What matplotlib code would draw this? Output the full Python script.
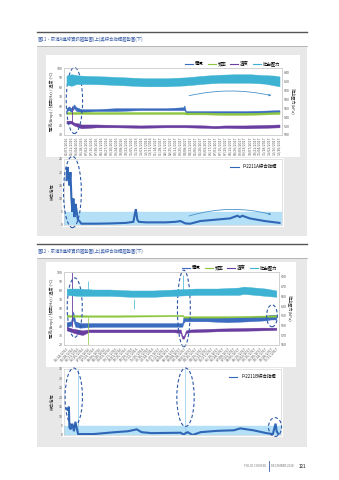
import numpy as np
import matplotlib.pyplot as plt
from matplotlib.patches import Ellipse, Rectangle, FancyArrowPatch
from matplotlib.lines import Line2D

plt.rcParams['font.family'] = ['Noto Sans CJK TC', 'DejaVu Sans']

W, H = 339, 480

# ---------------- 圖11 : 泵浦A ----------------
title_a = "圖11、泵浦A連線資訊趨勢圖(上)與綜合指標趨勢圖(下)"
dates_a = ("05/07/2016 05/21/2016 06/04/2016 06/18/2016 07/02/2016 07/16/2016 07/30/2016 "
           "08/13/2016 08/27/2016 09/10/2016 09/24/2016 10/08/2016 10/22/2016 11/05/2016 "
           "11/19/2016 12/03/2016 12/17/2016 12/31/2016 01/14/2017 01/28/2017 02/11/2017 "
           "02/25/2017 03/11/2017 03/25/2017 04/08/2017 04/22/2017 05/06/2017 05/20/2017 "
           "06/03/2017 06/17/2017 07/01/2017 07/15/2017 07/29/2017 08/12/2017 08/26/2017 "
           "09/09/2017 09/23/2017 10/07/2017 10/21/2017 11/04/2017 11/18/2017 12/02/2017 "
           "12/16/2017 12/30/2017").split()

# 吐出壓力 (kPa), band low / high
pres_a_x = [0, 1, 2, 3, 5, 8, 12, 16, 20, 24, 26, 28, 31, 34, 37, 40, 42, 43]
pres_a_lo = [613, 610, 614, 614, 614, 613, 611, 609, 609, 611, 613, 615, 617, 617, 617, 615, 611, 609]
pres_a_hi = [633, 636, 634, 633, 632, 631, 629, 627, 627, 629, 631, 633, 635, 636, 636, 634, 633, 631]
# 電流
cur_a_x = [0, 0.5, 1, 1.5, 2, 3, 6, 10, 15, 20, 23.6, 23.8, 24.1, 28, 32, 36, 40, 43]
cur_a_lo = [55, 56, 54, 58, 55, 54, 55, 55, 56, 56, 56, 56, 53, 53, 53, 53, 53, 54]
cur_a_hi = [58, 60, 58, 62, 59, 57, 57, 58, 58, 58, 59, 61, 55, 55, 55, 55, 55.5, 56]
# 頻率
freq_a_x = [0, 3, 10, 20, 23.7, 24, 28, 32, 36, 40, 43]
freq_a_lo = [52, 52, 52, 52, 52, 51.5, 51.5, 51, 51, 51.5, 52]
freq_a_hi = [54, 54, 54, 54, 54, 53.5, 53.5, 53, 53, 53.5, 54]
# 溫度
temp_a_x = [0, 1, 1.5, 2.5, 3, 6, 10, 15, 20, 24, 28, 30, 32, 36, 40, 43]
temp_a_lo = [42, 42, 40, 38, 37, 38, 38, 37.5, 38, 38, 37.5, 37, 37.5, 37, 37.5, 38]
temp_a_hi = [45, 45, 43, 42, 41, 41, 40.5, 40, 40.5, 40.5, 40, 39.5, 40, 40, 40.5, 41]
temp_a_spike_x, temp_a_spike_lo, temp_a_spike_hi = [1.2], [42], [60]
# 綜合指標
idx_a_x = [0, 0.2, 0.4, 0.6, 0.8, 1.0, 1.2, 1.4, 1.6, 1.8, 2.0, 2.3, 2.6, 3, 6, 9, 12, 13.5,
           14, 14.3, 14.6, 16, 20, 22, 23, 24, 25, 27, 30, 33, 34.5, 35, 35.5, 37, 40, 43]
idx_a = [17, 22, 18, 15, 20, 10, 5, 10, 3, 8, 6, 2, 1.5, 0.5, 0.5, 0.6, 0.8, 1.2,
         6, 2, 1.2, 1, 1, 1.2, 1.5, 0.6, 0.5, 1.5, 2, 2.5, 3.5, 3, 3.5, 2.5, 1.5, 0.8]

# ---------------- 圖12 : 泵浦B ----------------
title_b = "圖12、泵浦B連線資訊趨勢圖(上)與綜合指標趨勢圖(下)"
dates_b = ("05/14/2016 05/28/2016 06/11/2016 06/25/2016 07/09/2016 07/23/2016 08/06/2016 "
           "08/20/2016 09/03/2016 09/17/2016 10/01/2016 10/15/2016 10/29/2016 11/12/2016 "
           "11/26/2016 12/10/2016 12/24/2016 01/07/2017 01/21/2017 02/04/2017 02/18/2017 "
           "03/04/2017 03/18/2017 04/01/2017 04/15/2017 04/29/2017 05/13/2017 05/27/2017 "
           "06/10/2017 06/24/2017 07/08/2017 07/22/2017 08/05/2017 08/19/2017 09/02/2017 "
           "09/16/2017 09/30/2017 10/14/2017 10/28/2017 11/11/2017").split()

pres_b_x = [0, 2, 5, 8, 12, 16, 20, 24, 28, 32, 33, 35, 37, 39]
pres_b_lo = [653, 651, 651, 651, 649, 649, 651, 653, 653, 653, 655, 653, 651, 649]
pres_b_hi = [666, 666, 664, 664, 662, 662, 664, 666, 666, 668, 670, 668, 666, 662]
pres_b_spike_x, pres_b_spike_lo, pres_b_spike_hi = [3.9, 12.6, 21.7], [660, 625, 660], [681, 644, 694]

cur_b_x = [0, 0.8, 1.2, 1.6, 2.5, 5, 10, 15, 20, 21.5, 21.7, 22, 26, 30, 34, 37, 38, 39]
cur_b_lo = [40, 41, 48, 40, 39, 40, 40, 40, 40, 40, 44, 46, 46, 45, 46, 47, 48, 48]
cur_b_hi = [45, 46, 57, 46, 44, 44, 44, 44, 44, 44, 50, 51, 51, 50, 51, 52, 53, 53]

freq_b_x = [0, 4, 10, 20, 21.6, 21.8, 28, 34, 39]
freq_b_lo = [51, 51, 51, 51.5, 51.5, 50, 50, 50.5, 51]
freq_b_hi = [53, 52.5, 52.5, 53, 53, 51.5, 51.5, 52, 52.5]
freq_b_spike_x, freq_b_spike_lo, freq_b_spike_hi = [3.9], [20], [51]

temp_b_x = [0, 1, 2, 3, 4, 6, 10, 15, 20, 21.2, 21.5, 21.8, 22.2, 23, 28, 32, 36, 39]
temp_b_lo = [36, 34, 32, 31, 34, 34, 34, 34, 34, 33, 27, 27, 33, 34, 35, 35.5, 36, 36.5]
temp_b_hi = [40, 38, 37, 36, 37, 37, 37, 37, 37, 37, 30, 30, 36, 37, 38, 38.5, 39, 39]
temp_b_spike_x, temp_b_spike_lo, temp_b_spike_hi = [0.9], [40], [100]

idx_b_x = [0, 0.24, 0.4, 0.5, 0.73, 1.03, 1.33, 1.6, 2.1, 5, 8.9, 11.3, 12.9, 13.8, 15.6,
           21, 21.5, 22.3, 23.2, 24.7, 27.7, 30.8, 32, 33.2, 34.4, 36.8, 38, 38.5, 38.7, 39]
idx_b = [14, 13, 15, 4, 3, 6, 2, 7, 0.5, 0.5, 1.5, 2, 3, 1.5, 1, 1.2, 0.3, 1.5, 0, 1.5,
         2.2, 2.5, 3.5, 3, 2.5, 1, 0.5, 6, 2, 0.5]
idx_b_spike_x, idx_b_spike_hi = [2.0, 21.8], [35, 35]

legend_names = ["電流", "頻率", "溫度", "吐出壓力"]
c_cur, c_freq, c_temp, c_pres = "#3b6cc0", "#8cc63e", "#6a3da0", "#3db2d2"
c_idx, c_band, c_ell, c_arrow = "#2f66b6", "#b3e0f6", "#2c58a8", "#4b93c9"
tick_col = "#555555"


def box(x0, y0, x1, y1):
    return [x0 / W, 1 - y1 / H, (x1 - x0) / W, (y1 - y0) / H]


def rect(x0, y0, x1, y1, color, z=-5):
    fig.add_artist(Rectangle((x0 / W, 1 - y1 / H), (x1 - x0) / W, (y1 - y0) / H,
                             transform=fig.transFigure, facecolor=color, edgecolor="none", zorder=z))


def hline(y, x0, x1, color, lw):
    fig.add_artist(Line2D([x0 / W, x1 / W], [1 - y / H, 1 - y / H], transform=fig.transFigure,
                          color=color, lw=lw))


def style(ax):
    for s in ax.spines.values():
        s.set_color("#c8c8c8")
        s.set_linewidth(0.4)
    ax.tick_params(labelsize=2.6, length=0, pad=1, colors=tick_col)


def ellipse(ax, cx, cy, w, h):
    ax.add_patch(Ellipse((cx, cy), w, h, fill=False, ls=(0, (3, 2)), lw=0.8,
                         edgecolor=c_ell, clip_on=False, zorder=6))


def top_chart(ax, dates, ylim, yticks, plim, pticks, pres, cur, freq, temp, rot):
    n = len(dates)
    ax.set_xlim(-0.5, n - 0.5)
    ax.set_ylim(*ylim)
    ax.set_yticks(yticks)
    ax.set_xticks(range(n))
    if rot == 90:
        ax.set_xticklabels(dates, rotation=90, fontsize=2.1)
    else:
        ax.set_xticklabels(dates, rotation=45, ha="right", rotation_mode="anchor", fontsize=2.1)
    ax.grid(False)
    for (x, lo, hi), c in zip([cur, freq, temp], [c_cur, c_freq, c_temp]):
        ax.fill_between(x, lo, hi, color=c, lw=0.3, edgecolor=c)
    ax2 = ax.twinx()
    ax2.set_ylim(*plim)
    ax2.set_yticks(pticks)
    ax2.fill_between(pres[0], pres[1], pres[2], color=c_pres, lw=0.3, edgecolor=c_pres)
    style(ax)
    style(ax2)
    ax.set_ylabel("電流(Amp) / 頻率(Hz) / 溫度 (°C)", fontsize=3, labelpad=2, color="#333333")
    ax2.set_ylabel("吐出壓力(kPa)", fontsize=3, rotation=270, labelpad=4, color="#333333")
    handles = [Line2D([], [], color=c, lw=0.8) for c in [c_cur, c_freq, c_temp, c_pres]]
    ax.legend(handles, legend_names, loc="lower right", bbox_to_anchor=(1.0, 1.0), ncol=4,
              fontsize=3.2, frameon=False, handlelength=1.8, columnspacing=0.9,
              handletextpad=0.4, borderpad=0.2, borderaxespad=0.2)
    return ax2


def bottom_chart(ax, n, ylim, yticks, x, y, label):
    ax.set_xlim(-0.5, n - 0.5)
    ax.set_ylim(*ylim)
    ax.set_yticks(yticks)
    ax.set_xticks([])
    ax.axhspan(0, 5, color=c_band, zorder=1)
    ax.plot(x, y, color=c_idx, lw=1.5, zorder=3, solid_joinstyle="miter")
    style(ax)
    ax.set_ylabel("綜合指標", fontsize=3, labelpad=3, color="#333333")
    ax.legend([Line2D([], [], color=c_idx, lw=0.8)], [label], loc="upper right",
              fontsize=3.2, frameon=False, handlelength=2.0, borderaxespad=0.8)


fig = plt.figure(figsize=(W / 100, H / 100), dpi=100)
fig.patch.set_facecolor("white")

# ----- page decorations -----
for y_rule, y_title, y_line, y_p0, y_p1, title in [(32, 39, 46, 47, 236, title_a),
                                                    (244, 251, 258, 259, 447, title_b)]:
    hline(y_rule, 37, 307, "#555555", 1.0)
    fig.text(38 / W, 1 - y_title / H, title, fontsize=3.2, color="#3a5ea8",
             va="center", ha="left")
    hline(y_line, 37, 307, "#999999", 0.5)
    rect(37, y_p0, 307, y_p1, "#e8e8e8", -6)

rect(46, 55, 300, 157, "white")
rect(62, 158, 284, 227, "white")
rect(46, 262, 296, 367, "white")
rect(62, 368, 283, 437, "white")

# ----- 圖11 top -----
ax1 = fig.add_axes(box(64, 68, 282, 135))
top_chart(ax1, dates_a, (30, 100), range(30, 101, 10), (500, 650), range(500, 641, 20),
          (pres_a_x, pres_a_lo, pres_a_hi), (cur_a_x, cur_a_lo, cur_a_hi),
          (freq_a_x, freq_a_lo, freq_a_hi), (temp_a_x, temp_a_lo, temp_a_hi), 90)
ax1.vlines(temp_a_spike_x, temp_a_spike_lo, temp_a_spike_hi, color=c_temp, lw=0.6)
ellipse(ax1, 1.6, 66, 3.3, 69)
ax1.add_patch(FancyArrowPatch((24.2, 70.4), (41.9, 70.5), connectionstyle="arc3,rad=-0.12",
                              arrowstyle="-|>", mutation_scale=3, lw=0.6, color=c_arrow, zorder=6))

# ----- 圖11 bottom -----
ax1b = fig.add_axes(box(64, 159, 282, 225))
bottom_chart(ax1b, len(dates_a), (0, 25), range(0, 26, 5), idx_a_x, idx_a, "P-2211A綜合指標")
ellipse(ax1b, 1.2, 12.5, 3.6, 27)
ax1b.add_patch(FancyArrowPatch((24.2, 3.1), (41.9, 3.7), connectionstyle="arc3,rad=-0.15",
                               arrowstyle="-|>", mutation_scale=3, lw=0.6, color=c_arrow, zorder=6))

# ----- 圖12 top -----
ax2 = fig.add_axes(box(64, 272, 279, 345))
ax2r = top_chart(ax2, dates_b, (20, 100), range(20, 101, 10), (550, 700), range(550, 691, 20),
                 (pres_b_x, pres_b_lo, pres_b_hi), (cur_b_x, cur_b_lo, cur_b_hi),
                 (freq_b_x, freq_b_lo, freq_b_hi), (temp_b_x, temp_b_lo, temp_b_hi), 45)
ax2.vlines(temp_b_spike_x, temp_b_spike_lo, temp_b_spike_hi, color=c_temp, lw=0.6)
ax2.vlines(freq_b_spike_x, freq_b_spike_lo, freq_b_spike_hi, color=c_freq, lw=0.5)
ax2r.vlines(pres_b_spike_x, pres_b_spike_lo, pres_b_spike_hi, color=c_pres, lw=0.5)
ellipse(ax2, 1.5, 61, 2.8, 65)
ellipse(ax2, 21.8, 60, 2.4, 84)
ellipse(ax2, 38.2, 52, 2.0, 24)

# ----- 圖12 bottom -----
ax2b = fig.add_axes(box(64, 369, 281, 435))
bottom_chart(ax2b, len(dates_b), (0, 35), range(0, 36, 5), idx_b_x, idx_b, "P-2211B綜合指標")
ax2b.vlines(idx_b_spike_x, 0, idx_b_spike_hi, color="#8cc8ea", lw=0.5, zorder=2)
ellipse(ax2b, 1.3, 20, 3.2, 31)
ellipse(ax2b, 21.9, 20, 3.2, 31)
ellipse(ax2b, 38.4, 4.2, 2.4, 10)

# ----- footer -----
fig.text(266 / W, 1 - 466 / H, "FOLIO COURSE", fontsize=2.3, color="#777777", ha="right", va="center")
fig.add_artist(Line2D([268.5 / W, 268.5 / W], [1 - 461 / H, 1 - 471 / H], transform=fig.transFigure,
                      color="#3a5ea8", lw=0.6))
fig.text(271 / W, 1 - 466 / H, "DECEMBER 2018", fontsize=2.2, color="#777777", ha="left", va="center")
fig.text(306 / W, 1 - 466 / H, "121", fontsize=3.0, color="#555555", ha="right", va="center",
         weight="bold")

fig.savefig("out.png", dpi=100)
